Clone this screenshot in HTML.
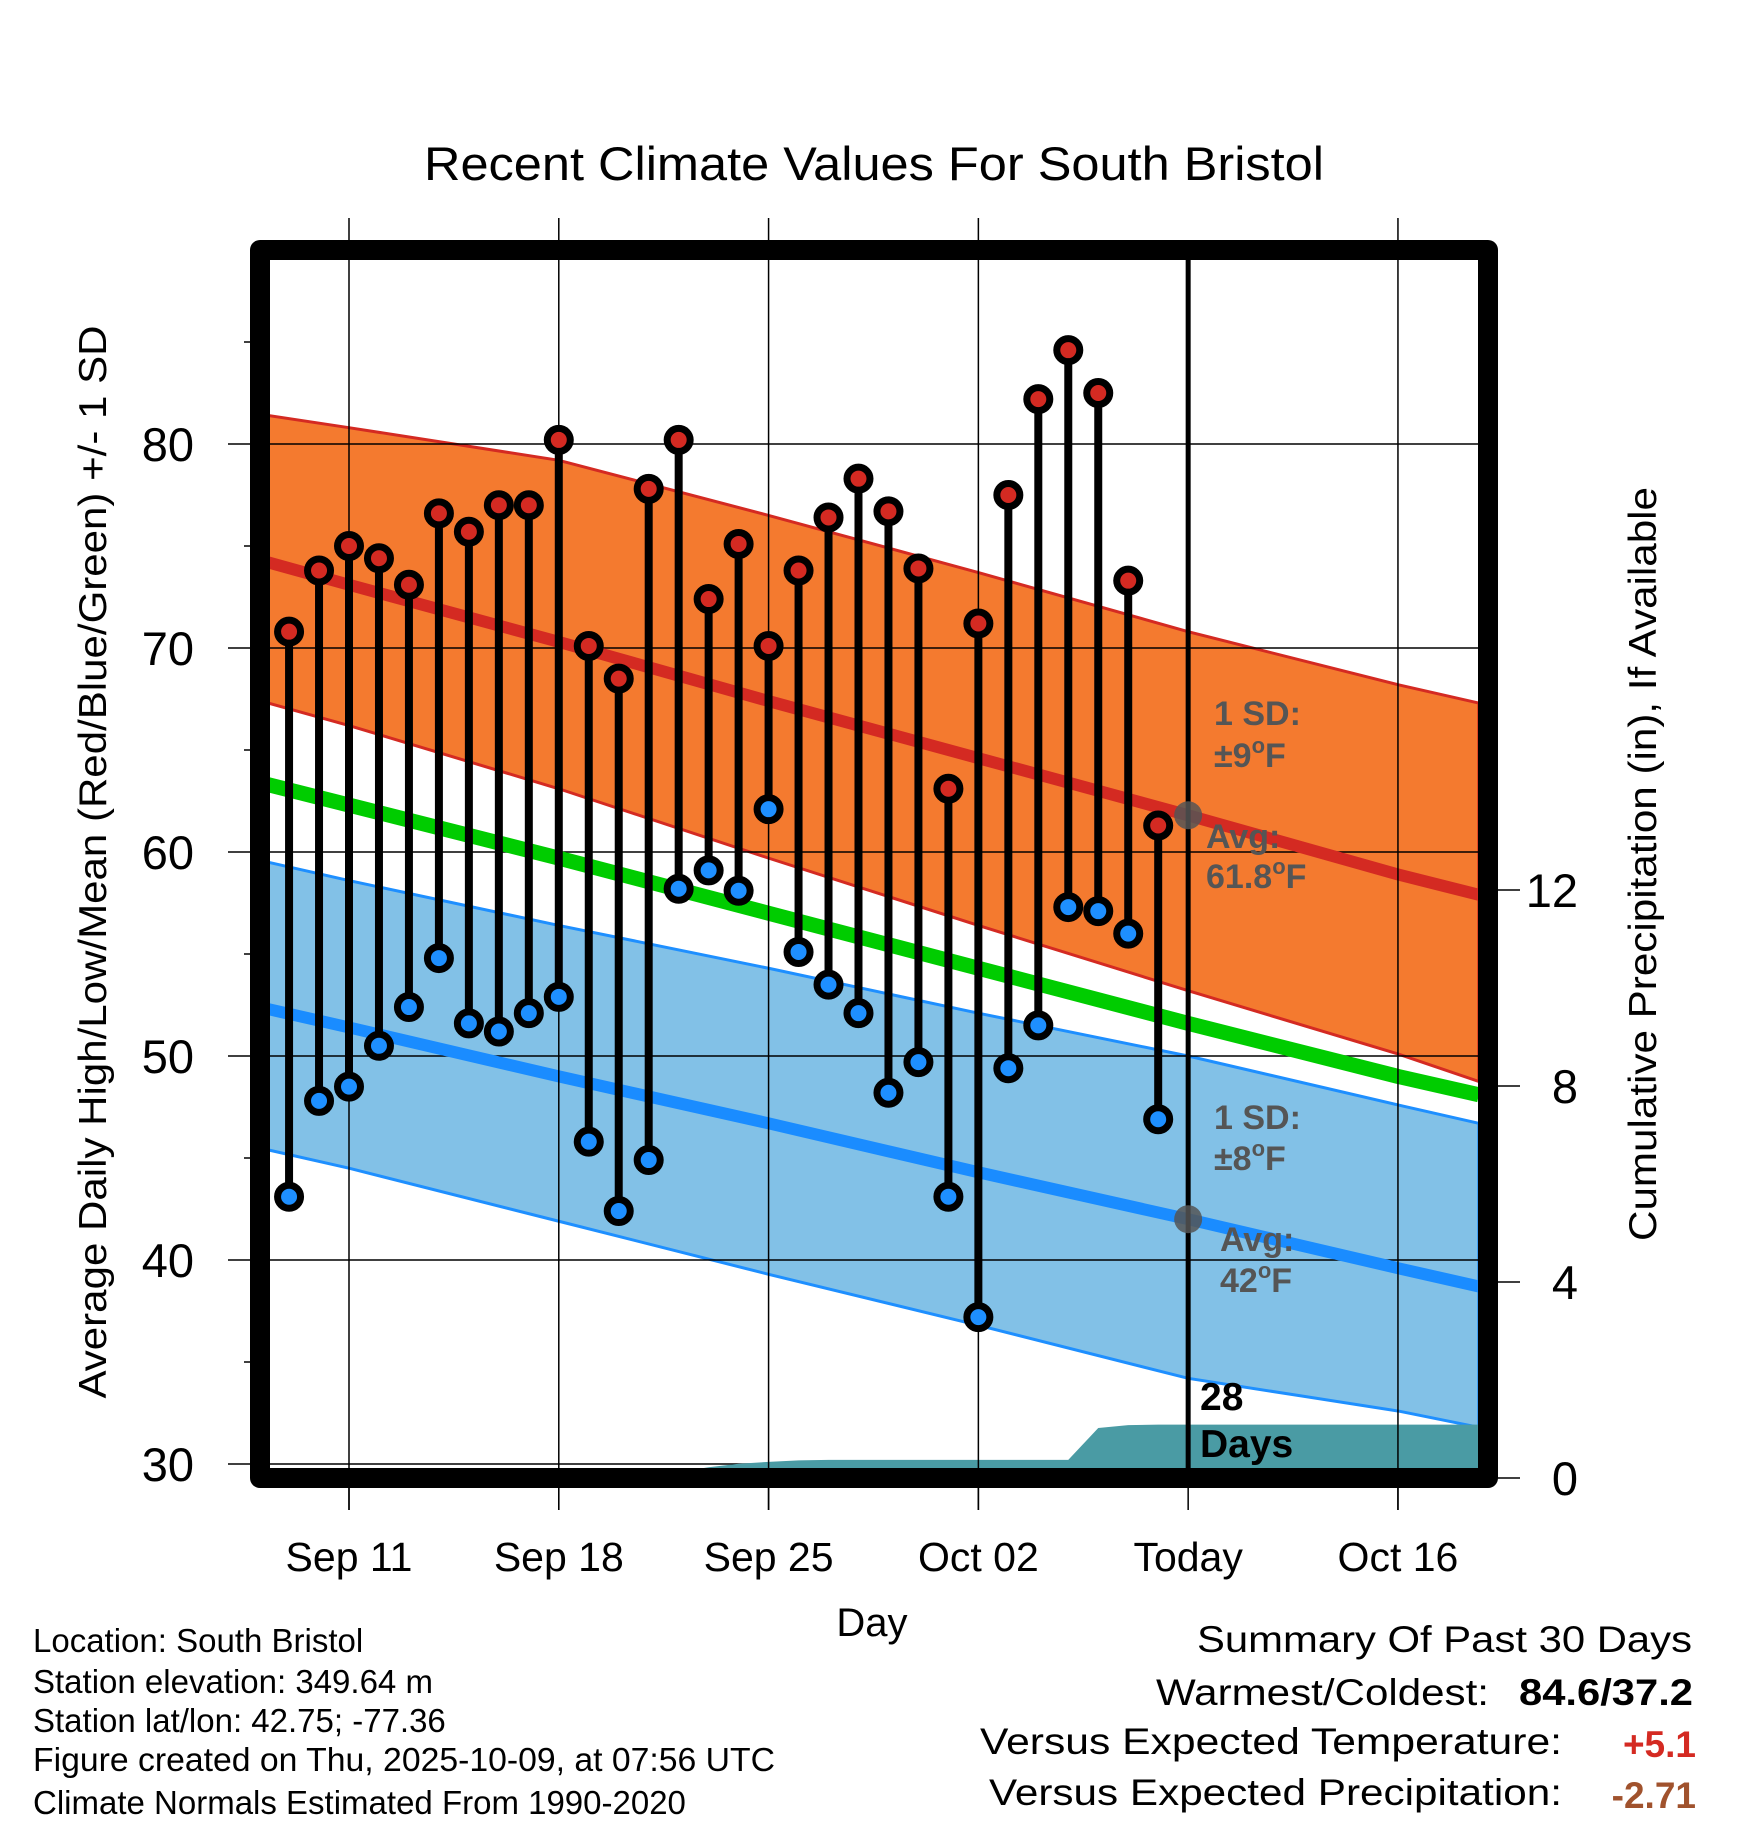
<!DOCTYPE html>
<html><head><meta charset="utf-8"><style>
html,body{margin:0;padding:0;background:#fff}
svg{display:block}
text{font-family:"Liberation Sans",sans-serif}
</style></head><body>
<svg id="chart" width="1748" height="1828" viewBox="0 0 1748 1828" xmlns="http://www.w3.org/2000/svg">
<defs><clipPath id="plotclip"><rect x="270" y="260" width="1208" height="1208"/></clipPath></defs>
<text x="874" y="180" font-size="47" text-anchor="middle" textLength="900" lengthAdjust="spacingAndGlyphs">Recent Climate Values For South Bristol</text>
<g id="bands" clip-path="url(#plotclip)"></g>
<g id="axes"></g>
<rect x="260" y="250" width="1228" height="1228" fill="none" stroke="#000" stroke-width="20" stroke-linejoin="round"/>
<text transform="translate(106,862) rotate(-90)" font-size="39" text-anchor="middle" textLength="1073" lengthAdjust="spacingAndGlyphs">Average Daily High/Low/Mean (Red/Blue/Green) +/- 1 SD</text>
<text transform="translate(1656,864) rotate(-90)" font-size="39" text-anchor="middle" textLength="754" lengthAdjust="spacingAndGlyphs">Cumulative Precipitation (in), If Available</text>
<text x="872" y="1636" font-size="40" text-anchor="middle">Day</text>
<g font-size="34" font-weight="bold" fill="#555">
<text x="1214" y="725">1 SD:</text>
<text x="1214" y="767">±9<tspan font-size="22" dy="-14">o</tspan><tspan dy="14">F</tspan></text>
<text x="1206" y="848">Avg:</text>
<text x="1206" y="888">61.8<tspan font-size="22" dy="-14">o</tspan><tspan dy="14">F</tspan></text>
</g>
<g font-size="34" font-weight="bold" fill="#555">
<text x="1214" y="1129">1 SD:</text>
<text x="1214" y="1170">±8<tspan font-size="22" dy="-14">o</tspan><tspan dy="14">F</tspan></text>
<text x="1220" y="1251">Avg:</text>
<text x="1220" y="1292">42<tspan font-size="22" dy="-14">o</tspan><tspan dy="14">F</tspan></text>
</g>
<g font-size="39" font-weight="bold">
<text x="1200" y="1410">28</text>
<text x="1200" y="1457">Days</text>
</g>
<g font-size="33">
<text x="33" y="1652">Location: South Bristol</text>
<text x="33" y="1693">Station elevation: 349.64 m</text>
<text x="33" y="1732">Station lat/lon: 42.75; -77.36</text>
<text x="33" y="1771" textLength="742" lengthAdjust="spacingAndGlyphs">Figure created on Thu, 2025-10-09, at 07:56 UTC</text>
<text x="33" y="1814">Climate Normals Estimated From 1990-2020</text>
</g>
<g font-size="37">
<text x="1692" y="1652" text-anchor="end" textLength="495" lengthAdjust="spacingAndGlyphs">Summary Of Past 30 Days</text>
<text x="1489" y="1705" text-anchor="end" textLength="333" lengthAdjust="spacingAndGlyphs">Warmest/Coldest:</text>
<text x="1693" y="1705" text-anchor="end" font-weight="bold" textLength="174" lengthAdjust="spacingAndGlyphs">84.6/37.2</text>
<text x="1562" y="1754" text-anchor="end" textLength="582" lengthAdjust="spacingAndGlyphs">Versus Expected Temperature:</text>
<text x="1696" y="1757" text-anchor="end" font-weight="bold" fill="#d42a22">+5.1</text>
<text x="1562" y="1805" text-anchor="end" textLength="573" lengthAdjust="spacingAndGlyphs">Versus Expected Precipitation:</text>
<text x="1696" y="1808" text-anchor="end" font-weight="bold" fill="#a0522d">-2.71</text>
</g>
<g id="marks"></g>
</svg>
<script>
// days relative to Sep 11
const obsDays = [-2,-1,0,1,2,3,4,5,6,7,8,9,10,11,12,13,14,15,16,17,18,19,20,21,22,23,24,25,26,27];
const highs = [70.8,73.8,75.0,74.4,73.1,76.6,75.7,77.0,77.0,80.2,70.1,68.5,77.8,80.2,72.4,75.1,70.1,73.8,76.4,78.3,76.7,73.9,63.1,71.2,77.5,82.2,84.6,82.5,73.3,61.3];
const lows = [43.1,47.8,48.5,50.5,52.4,54.8,51.6,51.2,52.1,52.9,45.8,42.4,44.9,58.2,59.1,58.1,62.1,55.1,53.5,52.1,48.2,49.7,43.1,37.2,49.4,51.5,57.3,57.1,56.0,46.9];
const normDays = [-2.7,0,7,14,21,28,35,37.7];
const highUpper = [81.4,80.8,79.2,76.5,73.7,70.8,68.2,67.3];
const highMean = [74.2,73.1,70.3,67.4,64.6,61.8,58.9,57.9];
const highLower = [67.3,66.2,63.1,59.7,56.4,53.2,50.1,48.75];
const meanNorm = [63.3,62.3,59.7,57.0,54.3,51.6,49.0,48.1];
const lowUpper = [59.5,58.6,56.4,54.3,52.1,50.0,47.6,46.7];
const lowMean = [52.3,51.4,49.0,46.7,44.3,42.0,39.6,38.7];
const lowLower = [45.4,44.5,41.9,39.3,36.8,34.2,32.6,31.8];
const precipDays = [-2,-1,0,1,2,3,4,5,6,7,8,9,10,11,12,13,14,15,16,17,18,19,20,21,22,23,24,25,26,27,28,37.7];
const precipCum = [0,0,0,0,0,0,0,0,0,0,0,0,0,0.12,0.22,0.29,0.33,0.36,0.37,0.37,0.37,0.37,0.37,0.37,0.37,0.37,0.37,1.02,1.08,1.09,1.09,1.09];
const yTicks = [30,40,50,60,70,80];
const yMinor = [35,45,55,65,75,85];
const y2Ticks = [0,4,8,12];
const xTickDays = [0,7,14,21,28,35];
const xTickLabels = ["Sep 11","Sep 18","Sep 25","Oct 02","Today","Oct 16"];
const todayDay = 28;
const avgHighToday = 61.8;
const avgLowToday = 42.0;

const NS = "http://www.w3.org/2000/svg";
const X = d => 349 + d * 29.97;
const Y = v => 444 + (80 - v) * 20.4;
const P = p => 1478 - p * 49;
function mk(parent, tag, attrs) {
  const e = document.createElementNS(NS, tag);
  for (const k in attrs) e.setAttribute(k, attrs[k]);
  parent.appendChild(e);
  return e;
}
const bands = document.getElementById('bands');
const axes = document.getElementById('axes');
const marks = document.getElementById('marks');
function linePts(arr) { return normDays.map((d, i) => X(d) + ',' + Y(arr[i])).join(' '); }
function bandPts(up, lo) {
  const a = normDays.map((d, i) => X(d) + ',' + Y(up[i]));
  const b = normDays.map((d, i) => X(d) + ',' + Y(lo[i])).reverse();
  return a.concat(b).join(' ');
}
let e = mk(bands, 'polygon', {points: bandPts(highUpper, highLower), fill: '#f47a2f', stroke: '#d42a22', 'stroke-width': 3});


e = mk(bands, 'polygon', {points: bandPts(lowUpper, lowLower), fill: '#82c1e7', stroke: '#1e8fff', 'stroke-width': 3});


yTicks.forEach(v => {
  const g = mk(bands, 'line', {x1: 270, x2: 1478, y1: Y(v), y2: Y(v), stroke: '#000', 'stroke-width': 1.5});
  
  
});
e = mk(bands, 'polyline', {points: linePts(highMean), fill: 'none', stroke: '#d42a22', 'stroke-width': 12});


e = mk(bands, 'polyline', {points: linePts(meanNorm), fill: 'none', stroke: '#00cc00', 'stroke-width': 15});


e = mk(bands, 'polyline', {points: linePts(lowMean), fill: 'none', stroke: '#1a8cff', 'stroke-width': 12});


xTickDays.forEach((d, i) => {
  if (i === 4) return;
  const g = mk(axes, 'line', {x1: X(d), x2: X(d), y1: 218, y2: 1510, stroke: '#000', 'stroke-width': 1.5});
  
  
});
const ppts = precipDays.map((d, i) => X(d) + ',' + P(precipCum[i]));
ppts.push(X(precipDays[precipDays.length - 1]) + ',' + P(0));
ppts.push(X(precipDays[0]) + ',' + P(0));
e = mk(bands, 'polygon', {points: ppts.join(' '), fill: '#4a9ba4'});


yTicks.forEach(v => {
  const t = mk(axes, 'line', {x1: 228, x2: 252, y1: Y(v), y2: Y(v), stroke: '#000', 'stroke-width': 1.5});
  
  
  const l = mk(axes, 'text', {x: 194, y: Y(v) + 17, 'font-size': 47, 'text-anchor': 'end'});
  l.textContent = v;
  
  
});
yMinor.forEach(v => {
  const t = mk(axes, 'line', {x1: 244, x2: 252, y1: Y(v), y2: Y(v), stroke: '#000', 'stroke-width': 1.5});
  
  
});
y2Ticks.forEach(p => {
  const t = mk(axes, 'line', {x1: 1496, x2: 1520, y1: P(p), y2: P(p), stroke: '#000', 'stroke-width': 1.5});
  
  
  const l = mk(axes, 'text', {x: 1578, y: P(p) + 17, 'font-size': 47, 'text-anchor': 'end'});
  l.textContent = p;
  
  
});
xTickDays.forEach((d, i) => {
  const t = mk(axes, 'line', {x1: X(d), x2: X(d), y1: 1480, y2: 1510, stroke: '#000', 'stroke-width': 1.5});
  
  
  const l = mk(axes, 'text', {x: X(d), y: 1571, 'font-size': 41, 'text-anchor': 'middle'});
  l.textContent = xTickLabels[i];
  
  
});
e = mk(marks, 'line', {x1: X(todayDay), x2: X(todayDay), y1: 260, y2: 1468, stroke: '#000', 'stroke-width': 5});


[avgHighToday, avgLowToday].forEach((v, i) => {
  const c = mk(marks, 'circle', {cx: X(todayDay), cy: Y(v), r: 14, fill: '#555', 'fill-opacity': 0.85});
  
  
});
obsDays.forEach((d, i) => {
  const s = mk(marks, 'line', {x1: X(d), x2: X(d), y1: Y(highs[i]), y2: Y(lows[i]), stroke: '#000', 'stroke-width': 8});
  
  
});
obsDays.forEach((d, i) => {
  const h = mk(marks, 'circle', {cx: X(d), cy: Y(highs[i]), r: 11.5, fill: '#d42a22', stroke: '#000', 'stroke-width': 7});
  
  
  const l = mk(marks, 'circle', {cx: X(d), cy: Y(lows[i]), r: 11.5, fill: '#1e8fff', stroke: '#000', 'stroke-width': 7});
  
  
});
</script>
</body></html>
